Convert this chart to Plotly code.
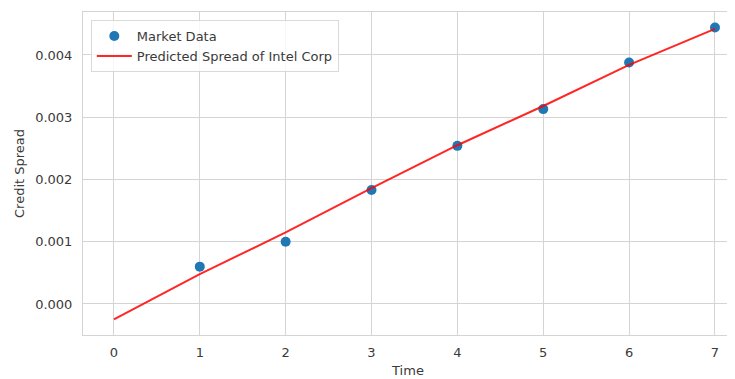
import plotly.graph_objects as go

# Data
time_points = [1, 2, 3, 4, 5, 6, 7]
market_spread = [0.00060, 0.00100, 0.00183, 0.00254, 0.00313, 0.00388, 0.00444]

pred_time = [0, 1, 2, 3, 4, 5, 6, 7]
pred_spread = [-0.000246, 0.00048, 0.00115, 0.00186, 0.00255, 0.00318, 0.00384, 0.00442]

x_ticks = [0, 1, 2, 3, 4, 5, 6, 7]
y_ticks = [0.000, 0.001, 0.002, 0.003, 0.004]
y_tick_text = ["0.000", "0.001", "0.002", "0.003", "0.004"]

font_family = "DejaVu Sans, Verdana, sans-serif"
text_color = "#3a3a3a"
grid_color = "#d4d4d4"

fig = go.Figure()
fig.add_trace(go.Scatter(
    x=time_points, y=market_spread, mode="markers", name="Market Data",
    marker=dict(color="#1f77b4", size=10, line=dict(width=0)),
))
fig.add_trace(go.Scatter(
    x=pred_time, y=pred_spread, mode="lines", name="Predicted Spread of Intel Corp",
    line=dict(color="rgba(255,0,0,0.85)", width=2),
))

# The page body has an 8px margin; sizes/margins compensate for it.
fig.update_layout(
    width=727, height=371,
    margin=dict(l=75, r=2, t=4, b=44),
    paper_bgcolor="white", plot_bgcolor="white",
    font=dict(family=font_family, size=13, color=text_color),
    showlegend=True,
    legend=dict(
        x=0.012, y=0.975, xanchor="left", yanchor="top",
        bgcolor="rgba(255,255,255,0.8)", bordercolor="#d9d9d9", borderwidth=1,
        font=dict(size=13, color=text_color),
        tracegroupgap=0, itemwidth=35,
    ),
    xaxis=dict(
        range=[-0.36, 7.21], tickvals=x_ticks,
        showgrid=True, gridcolor=grid_color, gridwidth=1,
        zeroline=False, showline=True, linecolor=grid_color, linewidth=1, mirror=True,
        ticks="outside", ticklen=5, tickcolor="rgba(0,0,0,0)",
        tickfont=dict(size=13, color=text_color),
        title=dict(text="Time", font=dict(size=13, color=text_color), standoff=7),
    ),
    yaxis=dict(
        range=[-0.000498, 0.00469], tickvals=y_ticks, ticktext=y_tick_text,
        showgrid=True, gridcolor=grid_color, gridwidth=1,
        zeroline=False, showline=True, linecolor=grid_color, linewidth=1, mirror=True,
        ticks="outside", ticklen=7, tickcolor="rgba(0,0,0,0)",
        tickfont=dict(size=13, color=text_color),
        title=dict(text="Credit Spread", font=dict(size=13, color=text_color), standoff=7),
    ),
)

fig.write_html("out.html")
